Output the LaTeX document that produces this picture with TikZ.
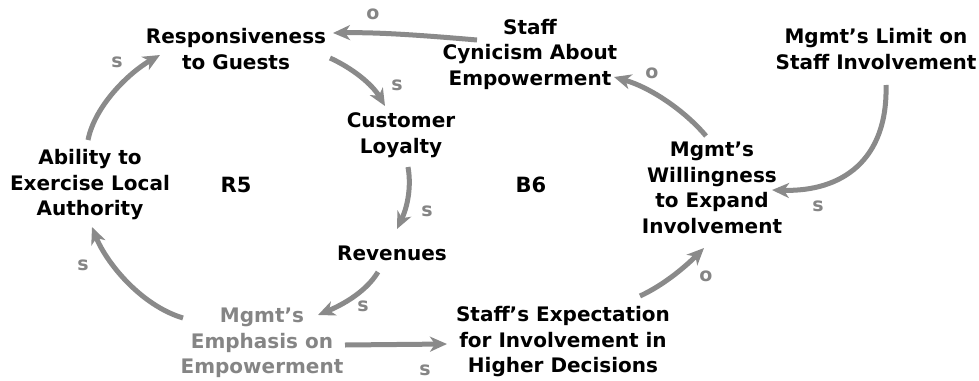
\documentclass[tikz,border=0pt]{standalone}
\usepackage{fontspec}
\setmainfont{DejaVu Sans}
\usetikzlibrary{arrows.meta,calc}
\definecolor{arrgray}{HTML}{8A8A8A}
\definecolor{txtgray}{HTML}{858585}
\tikzset{
  var/.style={align=center,inner sep=0pt,font=\fontsize{20}{25.5}\selectfont\bfseries},
  loopname/.style={inner sep=0pt,font=\fontsize{21}{25}\selectfont\bfseries},
  pol/.style={inner sep=0pt,text=txtgray,font=\fontsize{19}{20}\selectfont\bfseries},
  link/.style={draw=arrgray,line width=5pt,-{Stealth[length=17pt,width=15pt,inset=5pt]}},
}
\begin{document}
\begin{tikzpicture}[x=1pt,y=-1pt]
\useasboundingbox (0,0) rectangle (979,380);
\node[var] (resp) at (236,49) {Responsiveness\\to Guests};
\node[var] (cyn) at (530,54) {Staff\\Cynicism About\\Empowerment};
\node[var] (limit) at (876,49) {Mgmt's Limit on\\Staff Involvement};
\node[var] (loyal) at (401,135) {Customer\\Loyalty};
\node[var] (abil) at (90,185) {Ability to\\Exercise Local\\Authority};
\node[var] (will) at (712,188) {Mgmt's\\Willingness\\to Expand\\Involvement};
\node[var] (rev) at (392,253) {Revenues};
\node[var,text=txtgray] (emph) at (262,343) {Mgmt's\\Emphasis on\\Empowerment};
\node[var] (expec) at (563,342) {Staff's Expectation\\for Involvement in\\Higher Decisions};
\node[loopname] (r5) at (236,185) {R5};
\node[loopname] (b6) at (531,185) {B6};

\draw[link] ($(abil)+(-2,-45)$) .. controls (95,105) and (130,72) .. ($(resp)+(-76,6)$);
\draw[link] ($(resp)+(94,9)$) .. controls (352,68) and (372,84) .. ($(loyal)+(-16,-29)$);
\draw[link] ($(cyn)+(-53,-14)$) .. controls (430,36) and (380,32) .. ($(resp)+(97,-16)$);
\draw[link] ($(loyal)+(7,32)$) .. controls (412,190) and (406,210) .. ($(rev)+(5,-24)$);
\draw[link] ($(rev)+(-14,19)$) .. controls (366,292) and (342,305) .. ($(emph)+(56,-28)$);
\draw[link] ($(emph)+(83,2)$) -- ($(expec)+(-116,2)$);
\draw[link] ($(expec)+(77,-46)$) .. controls (666,284) and (688,264) .. ($(will)+(-8,60)$);
\draw[link] ($(will)+(-6,-52)$) .. controls (686,112) and (652,88) .. ($(cyn)+(84,23)$);
\draw[link] ($(limit)+(10,36)$) .. controls (888,160) and (842,192) .. ($(will)+(60,2)$);
\draw[link] ($(emph)+(-79,-25)$) .. controls (140,305) and (106,262) .. ($(abil)+(2,42)$);

\node[pol] (p1) at (117,62) {s};
\node[pol] (p2) at (397,85) {s};
\node[pol] (p3) at (373,14) {o};
\node[pol] (p4) at (427,211) {s};
\node[pol] (p5) at (363,306) {s};
\node[pol] (p6) at (425,370) {s};
\node[pol] (p7) at (706,276) {o};
\node[pol] (p8) at (652,73) {o};
\node[pol] (p9) at (818,206) {s};
\node[pol] (p10) at (83,265) {s};
\end{tikzpicture}
\end{document}
